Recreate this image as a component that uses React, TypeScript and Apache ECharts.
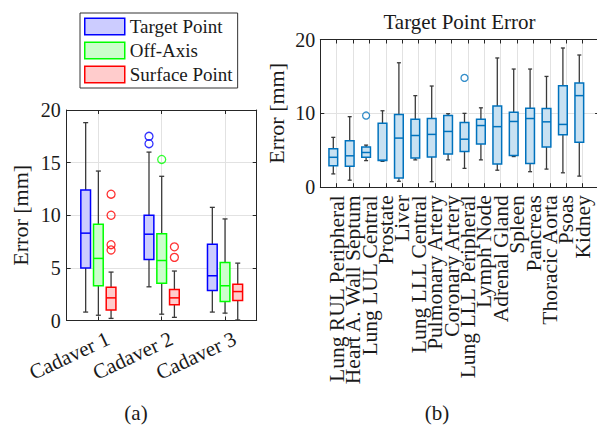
import React, { useEffect, useRef } from "react";
import * as echarts from "echarts";

// ---------- data ----------
const CADAVERS = ["Cadaver 1", "Cadaver 2", "Cadaver 3"];
// [min, Q1, median, Q3, max]
const TARGET_BOX = [
  [0.8, 5.0, 8.3, 12.4, 18.8],
  [3.2, 5.8, 8.2, 10.0, 16.0],
  [0.8, 2.85, 4.25, 7.25, 10.75],
];
const OFFAXIS_BOX = [
  [0.5, 3.3, 5.9, 9.15, 14.2],
  [0.6, 3.55, 5.7, 8.25, 13.7],
  [0.7, 1.8, 3.3, 5.5, 9.65],
];
const SURFACE_BOX = [
  [0.2, 1.0, 2.15, 3.15, 4.6],
  [0.3, 1.5, 2.15, 2.95, 4.7],
  [0.05, 1.9, 2.75, 3.45, 5.45],
];
// [cadaver index, value]
const TARGET_OUT = [[1, 17.5], [1, 16.8]];
const OFFAXIS_OUT = [[1, 15.3]];
const SURFACE_OUT = [[0, 12.0], [0, 10.0], [0, 7.2], [0, 6.7], [1, 7.0], [1, 6.0]];

const ORGANS = [
  "Lung RUL Peripheral",
  "Heart A. Wall Septum",
  "Lung LUL Central",
  "Prostate",
  "Liver",
  "Lung LLL Central",
  "Pulmonary Artery",
  "Coronary Artery",
  "Lung LLL Peripheral",
  "Lymph Node",
  "Adrenal Gland",
  "Spleen",
  "Pancreas",
  "Thoracic Aorta",
  "Psoas",
  "Kidney",
];
const ORGAN_BOX = [
  [1.8, 2.9, 4.05, 5.2, 6.75],
  [0.95, 2.85, 4.25, 6.3, 9.55],
  [3.6, 4.05, 4.7, 5.45, 5.7],
  [3.5, 3.6, 3.65, 8.65, 10.35],
  [0.8, 1.25, 6.65, 9.85, 16.85],
  [3.7, 3.95, 7.0, 9.2, 12.4],
  [0.75, 4.1, 7.15, 9.3, 13.7],
  [3.7, 4.5, 7.55, 9.7, 9.95],
  [2.55, 4.85, 6.5, 8.75, 10.0],
  [3.7, 5.85, 8.35, 9.2, 10.75],
  [2.3, 3.15, 8.2, 11.0, 17.5],
  [4.15, 4.3, 8.9, 10.15, 16.0],
  [2.1, 3.2, 9.3, 10.7, 16.0],
  [2.45, 5.45, 8.85, 10.65, 15.0],
  [1.95, 7.1, 8.5, 13.75, 18.85],
  [1.5, 6.1, 12.4, 14.1, 17.9],
];
// [organ index, value]
const ORGAN_OUT = [[2, 9.7], [8, 14.8]];

const LEFT_TICKS = [0, 20, 5];
const RIGHT_TICKS = [0, 20, 10];

// ---------- styles ----------
const FONT = "Liberation Serif";
const TXT = "#1a1a1a";
const AXIS = "#262626";
const GRIDC = "#e2e2e2";
const WHISK = "#3a3a3a";

const LEFT_SLOTS = ["", CADAVERS[0], "", CADAVERS[1], "", CADAVERS[2], ""];
const RIGHT_SLOTS = ["", ...ORGANS, ""];

function boxRender(offset: number, width: number, stroke: string, fill: string, capW: number) {
  return (params: any, api: any) => {
    const x = api.value(0);
    const p = [1, 2, 3, 4, 5].map((k) => api.coord([x, api.value(k)]));
    const cx = p[0][0] + offset;
    const [yMin, yQ1, yMed, yQ3, yMax] = p.map((q: number[]) => q[1]);
    const ws = { stroke: WHISK, lineWidth: 1.3 };
    return {
      type: "group",
      children: [
        { type: "line", shape: { x1: cx, y1: yQ3, x2: cx, y2: yMax }, style: ws },
        { type: "line", shape: { x1: cx, y1: yQ1, x2: cx, y2: yMin }, style: ws },
        { type: "line", shape: { x1: cx - capW / 2, y1: yMax, x2: cx + capW / 2, y2: yMax }, style: ws },
        { type: "line", shape: { x1: cx - capW / 2, y1: yMin, x2: cx + capW / 2, y2: yMin }, style: ws },
        {
          type: "rect",
          shape: { x: cx - width / 2, y: yQ3, width, height: yQ1 - yQ3 },
          style: { fill, stroke, lineWidth: 1.5 },
        },
        {
          type: "line",
          shape: { x1: cx - width / 2, y1: yMed, x2: cx + width / 2, y2: yMed },
          style: { stroke, lineWidth: 1.5 },
        },
      ],
    };
  };
}

function catAxis(gridIndex: number, data: string[], pos: string, every: (i: number) => boolean, labels: any) {
  return {
    gridIndex,
    type: "category",
    data,
    boundaryGap: false,
    position: pos,
    axisLine: { show: true, onZero: false, lineStyle: { color: AXIS, width: 1 } },
    axisTick: { show: true, inside: true, length: 4, interval: (i: number) => every(i), lineStyle: { color: AXIS } },
    axisLabel: labels,
    splitLine: { show: pos === "bottom", interval: (i: number) => every(i), lineStyle: { color: GRIDC, width: 1 } },
  };
}

function valAxis(gridIndex: number, ticks: number[], pos: string, extra: any) {
  return {
    gridIndex,
    type: "value",
    position: pos,
    min: ticks[0],
    max: ticks[1],
    interval: ticks[2],
    axisLine: { show: true, onZero: false, lineStyle: { color: AXIS, width: 1 } },
    axisTick: { show: true, inside: true, length: 4, lineStyle: { color: AXIS } },
    splitLine: { show: pos === "left", lineStyle: { color: GRIDC, width: 1 } },
    ...extra,
  };
}

const LEG = [
  { name: "Target Point", stroke: "#0000ff", fill: "#ccccff" },
  { name: "Off-Axis", stroke: "#00ff00", fill: "#ccffcc" },
  { name: "Surface Point", stroke: "#ff0000", fill: "#ffcccc" },
];

export default function App() {
  const ref = useRef<HTMLDivElement>(null);
  useEffect(() => {
    if (!ref.current) return;
    const chart = echarts.init(ref.current, null, { renderer: "svg" });
    const leftEvery = (i: number) => i % 2 === 1;
    const rightEvery = (_i: number) => true;
    const LOFF = [-12.7, 0, 12.7];
    const boxSets = [TARGET_BOX, OFFAXIS_BOX, SURFACE_BOX];
    const outSets = [TARGET_OUT, OFFAXIS_OUT, SURFACE_OUT];
    const series: any[] = [];
    LEG.forEach((l, k) => {
      series.push({
        name: l.name,
        type: "custom",
        xAxisIndex: 0,
        yAxisIndex: 0,
        renderItem: boxRender(LOFF[k], 9.7, l.stroke, l.fill, 5),
        encode: { x: 0, y: [1, 2, 3, 4, 5] },
        itemStyle: { color: l.fill, borderColor: l.stroke, borderWidth: 1.5 },
        data: boxSets[k].map((b, i) => [i * 2 + 1, ...b]),
        z: 3,
      });
      series.push({
        name: l.name + " outliers",
        type: "scatter",
        xAxisIndex: 0,
        yAxisIndex: 0,
        symbol: "circle",
        symbolSize: 8,
        symbolOffset: [LOFF[k], 0],
        itemStyle: { color: "rgba(255,255,255,0)", borderColor: l.stroke, borderWidth: 1.3 },
        data: outSets[k].map((o) => [o[0] * 2 + 1, o[1]]),
        z: 4,
      });
    });
    series.push({
      name: "Organs",
      type: "custom",
      xAxisIndex: 2,
      yAxisIndex: 2,
      renderItem: boxRender(-3.4, 8.7, "#0072bd", "#c8e1f2", 4),
      encode: { x: 0, y: [1, 2, 3, 4, 5] },
      data: ORGAN_BOX.map((b, i) => [i + 1, ...b]),
      z: 3,
    });
    series.push({
      name: "Organ outliers",
      type: "scatter",
      xAxisIndex: 2,
      yAxisIndex: 2,
      symbol: "circle",
      symbolSize: 7,
      symbolOffset: [-3.4, 0],
      itemStyle: { color: "rgba(255,255,255,0)", borderColor: "#0072bd", borderWidth: 1.3 },
      data: ORGAN_OUT.map((o) => [o[0] + 1, o[1]]),
      z: 4,
    });

    const tickLabel = { fontFamily: FONT, fontSize: 20, color: TXT };
    const option: any = {
      animation: false,
      backgroundColor: "#ffffff",
      textStyle: { fontFamily: FONT },
      title: [
        {
          text: "Target Point Error",
          left: 459.5,
          top: 22,
          padding: 0,
          textAlign: "center",
          textVerticalAlign: "middle",
          textStyle: { fontFamily: FONT, fontSize: 21, fontWeight: "normal", color: TXT },
        },
        {
          text: "(a)",
          left: 136,
          top: 413,
          padding: 0,
          textAlign: "center",
          textVerticalAlign: "middle",
          textStyle: { fontFamily: FONT, fontSize: 21, fontWeight: "normal", color: TXT },
        },
        {
          text: "(b)",
          left: 437,
          top: 413,
          padding: 0,
          textAlign: "center",
          textVerticalAlign: "middle",
          textStyle: { fontFamily: FONT, fontSize: 21, fontWeight: "normal", color: TXT },
        },
      ],
      legend: {
        orient: "vertical",
        left: 80,
        top: 13,
        padding: [4, 5, 4, 4],
        itemWidth: 40,
        itemHeight: 16.5,
        itemGap: 5,
        borderColor: "#333333",
        borderWidth: 1,
        backgroundColor: "#ffffff",
        selectedMode: false,
        textStyle: { fontFamily: FONT, fontSize: 19, color: TXT },
        data: LEG.map((l) => ({
          name: l.name,
          icon: "rect",
          itemStyle: { color: l.fill, borderColor: l.stroke, borderWidth: 1.5 },
        })),
      },
      grid: [
        { left: 66.7, top: 110, width: 190, height: 210.5, outerBoundsMode: "none", containLabel: false },
        { left: 320.3, top: 39.5, width: 278.8, height: 147.7, outerBoundsMode: "none", containLabel: false },
      ],
      xAxis: [
        catAxis(0, LEFT_SLOTS, "bottom", leftEvery, {
          ...tickLabel,
          fontSize: 21,
          interval: 0,
          rotate: 25,
          margin: 10,
          verticalAlign: "top",
          padding: [0, -6, 0, 0],
        }),
        catAxis(0, LEFT_SLOTS, "top", leftEvery, { show: false }),
        catAxis(1, RIGHT_SLOTS, "bottom", rightEvery, { ...tickLabel, fontSize: 21.5, interval: 0, rotate: 90, margin: 8 }),
        catAxis(1, RIGHT_SLOTS, "top", rightEvery, { show: false }),
      ],
      yAxis: [
        valAxis(0, LEFT_TICKS, "left", {
          axisLabel: { ...tickLabel, margin: 6 },
          name: "Error [mm]",
          nameLocation: "middle",
          nameGap: 35,
          nameMoveOverlap: false,
          nameTextStyle: { fontFamily: FONT, fontSize: 22, color: TXT },
        }),
        valAxis(0, LEFT_TICKS, "right", { axisLabel: { show: false } }),
        valAxis(1, RIGHT_TICKS, "left", {
          axisLabel: { ...tickLabel, margin: 5 },
          name: "Error [mm]",
          nameLocation: "middle",
          nameGap: 33,
          nameMoveOverlap: false,
          nameTextStyle: { fontFamily: FONT, fontSize: 22, color: TXT },
        }),
        valAxis(1, RIGHT_TICKS, "right", { axisLabel: { show: false } }),
      ],
      series,
    };
    chart.setOption(option);
    return () => chart.dispose();
  }, []);
  return (
    <div
      ref={ref}
      style={{ position: "absolute", left: 0, top: 0, width: 597, height: 426 }}
    />
  );
}
